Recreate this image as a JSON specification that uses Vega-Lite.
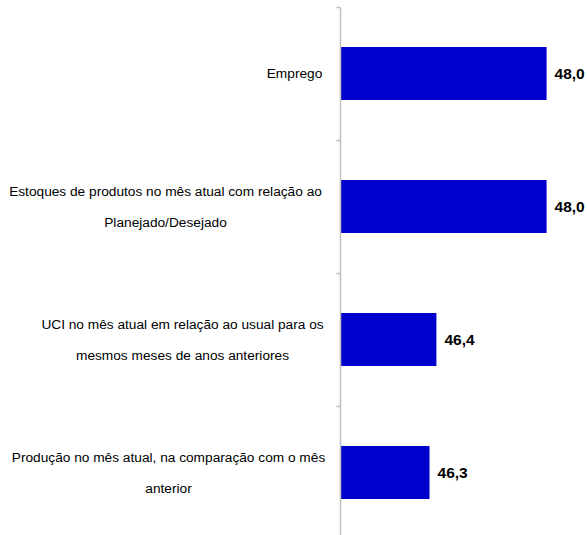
{
  "$schema": "https://vega.github.io/schema/vega-lite/v6.json",
  "width": 241,
  "height": 532,
  "autosize": {"type": "none"},
  "padding": {"left": 340, "top": 7, "right": 6, "bottom": 0},
  "background": "white",
  "config": {
    "view": {"stroke": null}
  },
  "data": {
    "values": [
      {"item": "Emprego", "valor": 48.0, "rotulo": "48,0"},
      {"item": "Estoques de produtos no mês atual com relação ao Planejado/Desejado", "valor": 48.0, "rotulo": "48,0"},
      {"item": "UCI no mês atual em relação ao usual para os mesmos meses de anos anteriores", "valor": 46.4, "rotulo": "46,4"},
      {"item": "Produção no mês atual, na comparação com o mês anterior", "valor": 46.3, "rotulo": "46,3"}
    ]
  },
  "encoding": {
    "y": {
      "field": "item",
      "type": "nominal",
      "sort": null,
      "scale": {"paddingInner": 0, "paddingOuter": 0},
      "axis": {
        "title": null,
        "zindex": 1,
        "domainColor": "#bfbfbf",
        "domainWidth": 1.5,
        "tickColor": "#bfbfbf",
        "tickWidth": 1.5,
        "tickSize": 4,
        "tickBand": "extent",
        "labelPadding": {
          "condition": [
            {"test": "datum.value == 'Emprego'", "value": 42},
            {"test": "datum.value == 'Estoques de produtos no mês atual com relação ao Planejado/Desejado'", "value": 171},
            {"test": "datum.value == 'UCI no mês atual em relação ao usual para os mesmos meses de anos anteriores'", "value": 154}
          ],
          "value": 168
        },
        "labelOffset": {
          "condition": {"test": "datum.value == 'Emprego'", "value": 0},
          "value": -15
        },
        "labelAlign": "center",
        "labelBaseline": "middle",
        "labelFont": "Liberation Sans",
        "labelFontSize": 13.7,
        "labelColor": "#000000",
        "labelLimit": 0,
        "labelLineHeight": 31,
        "labelExpr": "datum.label == 'Estoques de produtos no mês atual com relação ao Planejado/Desejado' ? ['Estoques de produtos no mês atual com relação ao','Planejado/Desejado'] : datum.label == 'UCI no mês atual em relação ao usual para os mesmos meses de anos anteriores' ? ['UCI no mês atual em relação ao usual para os','mesmos meses de anos anteriores'] : datum.label == 'Produção no mês atual, na comparação com o mês anterior' ? ['Produção no mês atual, na comparação com o mês','anterior'] : datum.label"
      }
    },
    "x": {
      "field": "valor",
      "type": "quantitative",
      "scale": {"domain": [45, 48.5], "zero": false},
      "axis": null
    }
  },
  "layer": [
    {"mark": {"type": "bar", "color": "#0000CC", "height": {"band": 0.4}, "clip": true}},
    {
      "mark": {"type": "text", "align": "left", "baseline": "middle", "dx": 8, "fontWeight": "bold", "fontSize": 15.5, "font": "Liberation Sans", "color": "#000000"},
      "encoding": {"text": {"field": "rotulo"}}
    }
  ]
}
